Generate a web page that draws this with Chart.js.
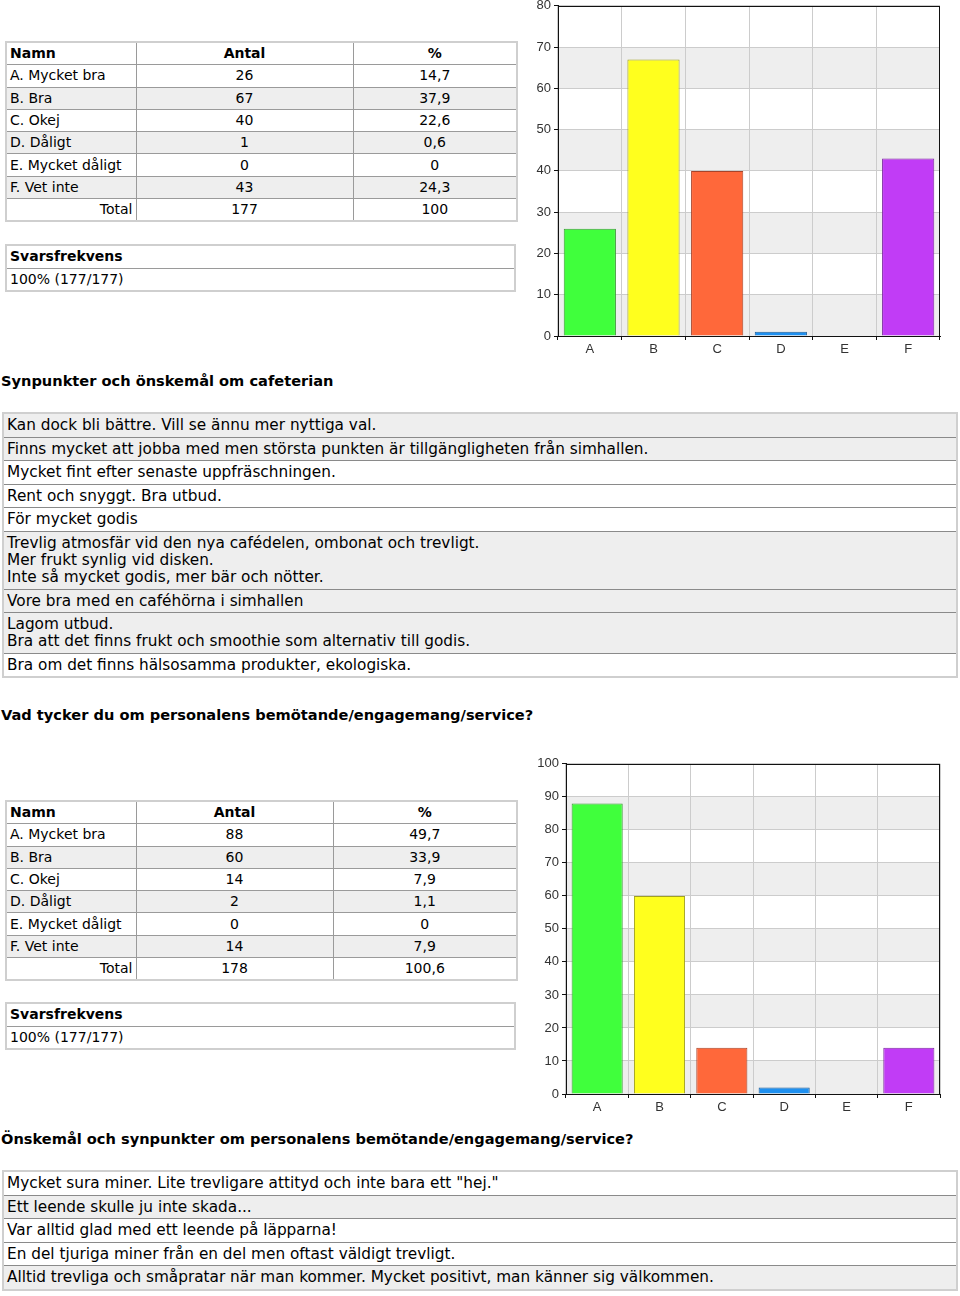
<!DOCTYPE html>
<html>
<head>
<meta charset="utf-8">
<script src="https://cdn.jsdelivr.net/npm/chart.js@4/dist/chart.umd.min.js"></script>
<style>
  html, body { margin: 0; padding: 0; background: #fff; }
  body { width: 960px; height: 1296px; position: relative; overflow: hidden;
         font-family: "DejaVu Sans", Verdana, sans-serif; font-size: 14px; color: #000; }
  .abs { position: absolute; }
  table { border-collapse: collapse; table-layout: fixed; }
  table.stat { border: 2px solid #cfcfcf; width: 511px; }
  table.stat td { border: 1px solid #9a9a9a; height: 21.3px; padding: 0 3px; line-height: 17px; white-space: nowrap; }
  table.stat td.c { text-align: center; }
  table.stat td.r { text-align: right; }
  table.stat tr.g td { background: #eeeeee; }
  table.stat tr.h td { font-weight: bold; }
  table.resp { border: 2px solid #cfcfcf; width: 511px; }
  table.resp td { border: 1px solid #9a9a9a; height: 21.5px; padding: 0 3px; line-height: 17px; }
  table.resp tr.h td { font-weight: bold; }
  table.com { border: 2px solid #cfcfcf; width: 956px; }
  table.com td { border: 1px solid #8a8a8a; padding: 3px 3px 2.6px; line-height: 17px; font-size: 15.3px; white-space: nowrap; }
  table.com tr.g td { background: #eeeeee; }
  .head { font-weight: bold; left: 1px; line-height: 17px; white-space: nowrap; font-size: 14.6px; }
  canvas { position: absolute; }
</style>
</head>
<body>
<div id="page"></div>
<canvas id="chart1" width="440" height="365" style="left:520px; top:-5px;"></canvas>
<canvas id="chart2" width="440" height="365" style="left:520px; top:753px;"></canvas>
<script>
// ---- data ----
const categories = ['A', 'B', 'C', 'D', 'E', 'F'];
const optionNames = ['A. Mycket bra', 'B. Bra', 'C. Okej', 'D. Dåligt', 'E. Mycket dåligt', 'F. Vet inte'];

const cafeCounts = [26, 67, 40, 1, 0, 43];
const cafePercents = ['14,7', '37,9', '22,6', '0,6', '0', '24,3'];
const cafeTotal = ['177', '100'];
const cafeResponse = '100% (177/177)';

const staffCounts = [88, 60, 14, 2, 0, 14];
const staffPercents = ['49,7', '33,9', '7,9', '1,1', '0', '7,9'];
const staffTotal = ['178', '100,6'];
const staffResponse = '100% (177/177)';

const cafeTicksMax = 80;
const staffTicksMax = 100;

const cafeComments = [
  'Kan dock bli bättre. Vill se ännu mer nyttiga val.',
  'Finns mycket att jobba med men största punkten är tillgängligheten från simhallen.',
  'Mycket fint efter senaste uppfräschningen.',
  'Rent och snyggt. Bra utbud.',
  'För mycket godis',
  'Trevlig atmosfär vid den nya cafédelen, ombonat och trevligt.\nMer frukt synlig vid disken.\nInte så mycket godis, mer bär och nötter.',
  'Vore bra med en caféhörna i simhallen',
  'Lagom utbud.\nBra att det finns frukt och smoothie som alternativ till godis.',
  'Bra om det finns hälsosamma produkter, ekologiska.'
];
const cafeCommentShade = [1, 1, 0, 0, 0, 1, 1, 1, 0];

const staffComments = [
  'Mycket sura miner. Lite trevligare attityd och inte bara ett "hej."',
  'Ett leende skulle ju inte skada...',
  'Var alltid glad med ett leende på läpparna!',
  'En del tjuriga miner från en del men oftast väldigt trevligt.',
  'Alltid trevliga och småpratar när man kommer. Mycket positivt, man känner sig välkommen.'
];
const staffCommentShade = [0, 1, 0, 0, 1];

const headings = [
  'Synpunkter och önskemål om cafeterian',
  'Vad tycker du om personalens bemötande/engagemang/service?',
  'Önskemål och synpunkter om personalens bemötande/engagemang/service?'
];

const barFill = ['#40ff3c', '#ffff1e', '#ff683a', '#1e90f0', '#9a9a9a', '#c13cf6'];
const barEdge = ['#3a9a34', '#a0a020', '#a8442a', '#1c5c98', '#666666', '#7c2aa0'];

// ---- page building ----
const page = document.getElementById('page');
function el(tag, cls, style, html) {
  const e = document.createElement(tag);
  if (cls) e.className = cls;
  if (style) e.setAttribute('style', style);
  if (html !== undefined) e.innerHTML = html;
  return e;
}
function esc(s) { return s.replace(/&/g, '&amp;').replace(/</g, '&lt;').replace(/\n/g, '<br>'); }

function statTable(top, widths, counts, percents, total) {
  const t = el('table', 'stat abs', 'left:5px; top:' + top + 'px;');
  const cg = el('colgroup');
  widths.forEach(w => cg.appendChild(el('col', '', 'width:' + w + 'px')));
  t.appendChild(cg);
  const tb = el('tbody');
  tb.appendChild(el('tr', 'h', '', '<td>Namn</td><td class="c">Antal</td><td class="c">%</td>'));
  optionNames.forEach((n, i) => {
    tb.appendChild(el('tr', i % 2 === 1 ? 'g' : '', '',
      '<td>' + n + '</td><td class="c">' + counts[i] + '</td><td class="c">' + percents[i] + '</td>'));
  });
  tb.appendChild(el('tr', '', '', '<td class="r">Total</td><td class="c">' + total[0] + '</td><td class="c">' + total[1] + '</td>'));
  t.appendChild(tb);
  page.appendChild(t);
}
function respTable(top, text) {
  const t = el('table', 'resp abs', 'left:5px; top:' + top + 'px;');
  t.innerHTML = '<tbody><tr class="h"><td>Svarsfrekvens</td></tr><tr><td>' + text + '</td></tr></tbody>';
  page.appendChild(t);
}
function heading(top, text) {
  page.appendChild(el('div', 'head abs', 'top:' + top + 'px;', esc(text)));
}
function commentTable(top, list, shade) {
  const t = el('table', 'com abs', 'left:2px; top:' + top + 'px;');
  const tb = el('tbody');
  list.forEach((c, i) => tb.appendChild(el('tr', shade[i] ? 'g' : '', '', '<td>' + esc(c) + '</td>')));
  t.appendChild(tb);
  page.appendChild(t);
}

statTable(41, [130, 217, 164], cafeCounts, cafePercents, cafeTotal);
respTable(244, cafeResponse);
heading(372, headings[0]);
commentTable(412, cafeComments, cafeCommentShade);
heading(706, headings[1]);
statTable(800, [130, 197, 184], staffCounts, staffPercents, staffTotal);
respTable(1002, staffResponse);
heading(1130, headings[2]);
commentTable(1170, staffComments, staffCommentShade);

// ---- charts ----
const bandsPlugin = {
  id: 'bands',
  beforeDraw(chart) {
    const { ctx, chartArea: a, scales: { y } } = chart;
    ctx.save();
    ctx.fillStyle = '#eeeeee';
    for (let v = 0; v < y.max; v += 20) {
      const top = y.getPixelForValue(v + 10), bot = y.getPixelForValue(v);
      ctx.fillRect(a.left, top, a.width, bot - top);
    }
    ctx.restore();
  },
  afterDraw(chart) {
    const { ctx, chartArea: a } = chart;
    ctx.save();
    ctx.strokeStyle = '#111';
    ctx.lineWidth = 1;
    ctx.strokeRect(Math.round(a.left) + 0.5, Math.round(a.top) + 0.5,
                   Math.round(a.right - a.left) - 1, Math.round(a.bottom - a.top));
    ctx.restore();
  }
};

function makeChart(id, values, maxY, yWidth) {
  return new Chart(document.getElementById(id), {
    type: 'bar',
    data: {
      labels: categories,
      datasets: [{
        data: values,
        backgroundColor: barFill,
        borderColor: barEdge,
        borderWidth: 1,
        borderSkipped: 'bottom',
        barPercentage: 0.82,
        categoryPercentage: 1
      }]
    },
    options: {
      responsive: false,
      animation: false,
      devicePixelRatio: 1,
      layout: { padding: { top: 0, right: 20, left: 0, bottom: 0 } },
      plugins: { legend: { display: false }, tooltip: { enabled: false } },
      scales: {
        x: {
          grid: { color: '#cccccc', tickColor: '#111', tickLength: 4, offset: true },
          border: { color: '#111', width: 1 },
          ticks: { color: '#333', padding: 2, font: { family: 'Liberation Sans', size: 13 } },
          afterFit(s) { s.height = 24; }
        },
        y: {
          min: 0, max: maxY,
          grid: { color: '#cccccc', tickColor: '#111', tickLength: 4 },
          border: { color: '#111', width: 1 },
          ticks: { stepSize: 10, color: '#333', padding: 3, font: { family: 'Liberation Sans', size: 13 } },
          afterFit(s) { s.width = yWidth; }
        }
      }
    },
    plugins: [bandsPlugin]
  });
}

makeChart('chart1', cafeCounts, cafeTicksMax, 38);
makeChart('chart2', staffCounts, staffTicksMax, 46);
</script>
</body>
</html>
